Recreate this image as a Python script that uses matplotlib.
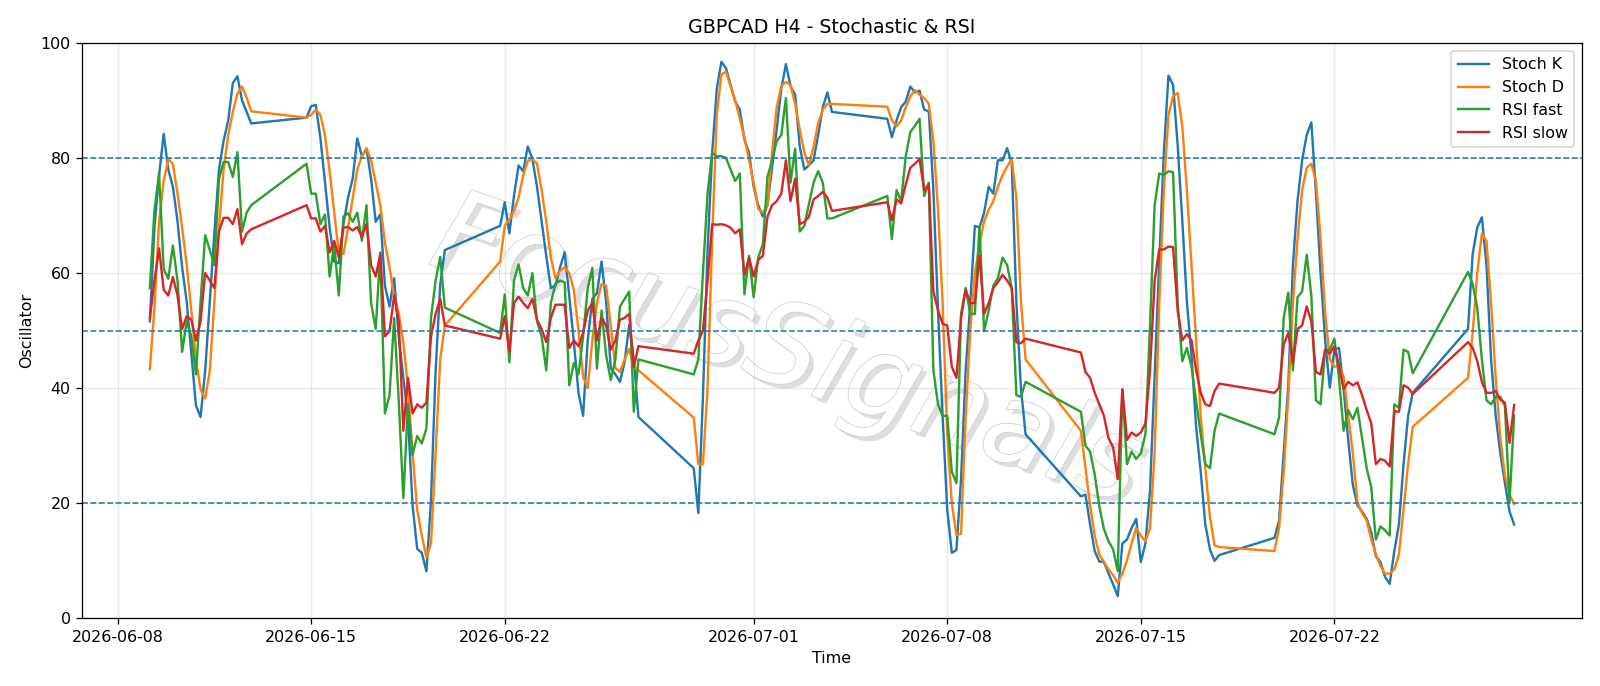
import matplotlib
matplotlib.use("Agg")
import matplotlib.pyplot as plt
import matplotlib.patheffects as pe
import pandas as pd

# H4 bars, one list per week (Sun 20:00 bar + Mon..Fri)
stoch_k = [
    51.6, 68, 77, 84.2, 78, 75, 69, 61, 55, 46, 37, 35, 43, 55, 67, 78, 83, 86.5, 93, 94.2, 90, 88, 86,
    87, 89, 89.2, 83.5, 75.7, 68, 62, 61.7, 68.5, 73.1, 76.4, 83.4, 80.3, 81.6, 76.4, 68.9, 70.2, 57.8, 54.2,
    59.1, 49, 41.8, 35, 19.6, 12.1, 11.4, 8.2, 20.5, 43, 58, 64,
    68.2, 72.3, 66.9, 73.4, 78.7, 77.7, 82, 79.8, 75, 69, 63, 57.4, 57.8, 61, 63.6, 56, 48, 39.2, 35.2,
    48.3, 55.5, 56.5, 62, 55, 43.5, 42.4, 41.1, 44.5, 51, 45, 35,
    26.1, 18.3, 38.5, 64, 80.9, 92, 96.7, 95.6, 92.7, 89.8, 88.4, 83.2, 80.9, 75, 71.8, 69.8, 71.8, 78.3, 85,
    92, 96.3, 92.5, 91, 82, 78, 78.7, 79.6, 84, 88.8, 91.4, 88,
    86.8, 83.6, 86.5, 88.8, 89.8, 92.4, 91.4, 91.7, 88.4, 88.1, 74.4, 53.5, 35.2, 18.9, 11.4, 11.9, 24.2, 43.1, 54.8,
    68.2, 67.9, 70.5, 75, 73.8, 79.6, 79.6, 81.7, 79, 55, 40, 32,
    21.2, 21.5, 16.3, 11.7, 9.9, 9.8, 7.8, 5.9, 3.9, 13, 13.7, 15.7, 17.3, 9.8, 13, 22.2, 42, 62, 81,
    94.3, 92.7, 82.2, 69.2, 55, 45.7, 33.3, 25.5, 16.3, 12, 10, 11,
    14, 17, 28.7, 40.5, 61.4, 72.5, 79.6, 84, 86.2, 74, 60, 48.3, 40.1, 46.7, 47, 40, 31, 23.2, 19.6,
    18.6, 17.3, 15, 10.8, 9.8, 7.2, 6, 11.7, 16.3, 26.8, 35.2, 39.2,
    50.3, 63.3, 67.9, 69.7, 61.4, 45, 35.2, 28.7, 23.5, 18.6, 16.3,
]
stoch_d = [
    43.3, 54, 69, 76, 79.8, 79, 73.8, 67.9, 61.4, 53.5, 45, 39.8, 38.2, 43, 55, 67.9, 78, 84, 88, 91.2, 92.4, 90.5, 88.1,
    87, 87.5, 88.4, 87.5, 83.9, 77.7, 70.5, 63.5, 63.3, 67.9, 73, 78, 80.3, 81.7, 79.6, 75.7, 71.8, 65.3, 61,
    56, 53, 48, 40, 28.7, 18.9, 14.4, 10.6, 13, 28.7, 45, 50.9,
    62, 68.2, 69.2, 70.8, 73.1, 77, 79.5, 79.8, 79, 74.4, 69, 62.7, 59.1, 60.4, 61, 60, 57, 50, 42,
    40, 48.3, 54.8, 58.1, 57.8, 50.9, 43.5, 42.8, 45, 46.8, 43.7, 43.1,
    34.9, 26.8, 26.8, 40, 65.9, 87.5, 94.5, 95, 92.4, 90, 86.8, 83.6, 79.6, 75.7, 71.1, 70.5, 71.8, 81, 88.8,
    92.5, 93.2, 92.7, 89.4, 85, 80.9, 78.7, 82, 86, 88.4, 89.4, 89.4,
    88.9, 86.5, 85.5, 86.5, 88.8, 90.7, 91.8, 91, 90.4, 89.4, 82.9, 71.1, 54.8, 32, 20, 14.5, 14.7, 35, 50,
    60, 65, 69, 71, 72.5, 75, 77, 78.5, 79.8, 73, 55, 45,
    32.6, 26.1, 19.6, 14.4, 11.1, 9.8, 8.5, 7.5, 6.2, 7.8, 10.1, 13, 15.7, 14.4, 13.4, 15.7, 28.7, 54.8, 74.4,
    87.5, 90.7, 91.3, 85.5, 74.4, 61.4, 48.3, 35.2, 26.1, 17.6, 12.7, 12.4,
    11.7, 15.7, 25.5, 38.5, 54.8, 65.9, 74.4, 78.3, 79, 76, 66, 53, 45, 43.7, 44, 42, 35.2, 28.7, 20.2,
    18.3, 17, 13.7, 11.1, 9.1, 7.8, 7.8, 8.5, 11.1, 18.9, 26.8, 33.3,
    41.8, 49.6, 60, 66.9, 65.6, 54.8, 41.8, 31.3, 24.8, 21.5, 19.9,
]
rsi_fast = [
    57.4, 71, 77.3, 60.7, 59, 64.8, 58.7, 46.3, 51.6, 49, 42.4, 55, 66.6, 64, 61.4, 76.4, 79.3, 79.3, 76.7, 81, 67.2, 70.5, 71.8,
    79, 73.8, 73.8, 68.5, 70.2, 59.4, 65, 56.1, 69.8, 70.4, 68.9, 70.5, 65.6, 71.8, 54.8, 50.3, 63.6, 35.6, 38.8,
    52.2, 37.9, 20.9, 37.2, 28.4, 31.7, 30.4, 33, 52.2, 58.7, 62.8, 54,
    49.6, 56.3, 44.5, 58.7, 61.5, 57.4, 56.1, 60, 51.6, 49, 43.1, 54.8, 58.1, 58.7, 58.4, 40.5, 44.4, 42.4, 49,
    57.4, 60.9, 43.4, 53.5, 45.7, 41.4, 45, 54.2, 55.5, 56.8, 35.9, 45,
    42.4, 45, 60, 73.8, 80.9, 80.3, 80.3, 80, 78, 76, 77.3, 56.3, 63, 55.8, 62.7, 65, 76.7, 79.6, 82.9,
    84, 90.4, 75.7, 81.6, 67.2, 68.2, 72, 75.7, 77.7, 75.7, 69.5, 69.5,
    73.4, 65.9, 74.4, 72.5, 80.3, 84.5, 85.6, 86.8, 73.4, 75.7, 43.1, 37.2, 35.2, 35.2, 25.5, 23.5, 52.9, 57.4, 52.9,
    52.9, 68.2, 49.9, 53.5, 57.8, 59.1, 62.7, 61.4, 57.4, 38.8, 38.5, 41.1,
    35.9, 30, 29, 25, 19.5, 15.5, 13.4, 12, 8.2, 39.8, 26.8, 29, 27.7, 28.7, 32, 50.9, 71.8, 77.3, 77,
    77.7, 77.5, 54.8, 44.7, 47, 43.7, 37.9, 32, 26.8, 26.1, 32.6, 35.6,
    32, 34.9, 52.2, 56.6, 43.1, 55.8, 56.8, 63.2, 56.1, 37.9, 37.2, 46.7, 46.7, 48.6, 41.8, 32.6, 36.2, 34.6, 36.6,
    31.3, 26.1, 22.8, 13.7, 16, 15.3, 14.4, 37.2, 36.6, 46.7, 46.3, 42.6,
    60.2, 58.1, 53.9, 45, 37.9, 37.2, 38.5, 38.5, 36.9, 20.2, 35.2,
]
rsi_slow = [
    52.2, 58.7, 64.3, 57.1, 56.1, 59.3, 56.1, 50.3, 52.5, 51.9, 48.3, 51.6, 60, 58.7, 57.4, 67.2, 69.6, 69.6, 68.5, 71.1, 65, 66.9, 67.6,
    71.8, 69.5, 69.5, 67.2, 68.2, 63.6, 65.6, 62.7, 67.9, 68, 67.4, 68, 66.3, 68.5, 61.4, 59.4, 63.3, 49, 49.9,
    56.1, 51.6, 32.6, 41.8, 35.6, 37.2, 36.6, 37.5, 49, 52.9, 55.5, 50.9,
    48.6, 52.5, 46.3, 54.8, 55.9, 54.8, 53.9, 55.5, 51.9, 50.3, 48, 52.2, 54.5, 54.5, 54.5, 47, 48.3, 47.3, 49.6,
    53.5, 54.8, 48.3, 52.2, 50.9, 46.7, 48.3, 51.9, 52.2, 52.9, 43.7, 47.3,
    46, 48.3, 50, 58.7, 68.5, 68.4, 68.5, 68.3, 67.9, 66.9, 67.6, 59.7, 62.7, 59.4, 62.3, 63, 69.8, 71.8, 72.5,
    73.8, 79.6, 72.5, 76.4, 68.5, 68.9, 69.8, 72.8, 73.4, 74.1, 73.1, 70.8,
    72.3, 69.2, 72.8, 72.1, 75.4, 78.3, 79, 79.8, 74.4, 75.4, 56.8, 53.5, 51.2, 50.9, 43.7, 41.8, 52.2, 57.1, 54.8,
    54.8, 63, 52.9, 54.8, 57.4, 58.4, 59.7, 58.7, 57.4, 48, 47.8, 48.6,
    46.2, 42.8, 41.8, 39.2, 37.2, 35.2, 31.3, 29.7, 24.2, 39.8, 31, 32.3, 31.7, 32.3, 33.9, 43.1, 58.7, 64.1, 64.1,
    64.6, 64.5, 53.5, 48.3, 49.4, 48.3, 43.1, 39.2, 37.2, 36.9, 39.5, 40.8,
    39.2, 40.1, 47.6, 49.6, 44.4, 50.3, 50.9, 54.2, 51.6, 42.8, 42.4, 46.7, 46, 47.3, 44, 39.8, 41.1, 40.5, 41,
    38.8, 36.2, 33.9, 26.8, 27.7, 27.4, 26.4, 36, 35.9, 40.5, 40.1, 39,
    48, 47, 44.7, 41.1, 39.2, 39.2, 39.5, 38, 37.5, 30.5, 37.1,
]
levels = [20, 50, 80]

# trading bars only: weekdays plus the Sunday 20:00 open
idx = pd.date_range("2026-06-09 04:00", "2026-07-28 12:00", freq="4h")
idx = idx[(idx.dayofweek < 5) | ((idx.dayofweek == 6) & (idx.hour == 20))]

fig, ax = plt.subplots(figsize=(14, 6))
fig.subplots_adjust(left=0.051, right=0.9885, top=0.9375, bottom=0.0985)

# faint watermark behind the lines
ax.text(0.47, 0.46, "FocusSignals", transform=ax.transAxes, fontsize=72,
        rotation=-19, ha="center", va="center", color="white", style="italic",
        zorder=0,
        path_effects=[pe.withSimplePatchShadow(offset=(3, -3), shadow_rgbFace="#c8c8c8", alpha=0.6),
                      pe.Stroke(linewidth=1.0, foreground="#cfcfcf"), pe.Normal()])

ax.plot(idx, stoch_k, label="Stoch K", lw=1.5)
ax.plot(idx, stoch_d, label="Stoch D", lw=1.5)
ax.plot(idx, rsi_fast, label="RSI fast", lw=1.5)
ax.plot(idx, rsi_slow, label="RSI slow", lw=1.5)
for lv in levels:
    ax.axhline(lv, color="C0", linestyle="--", linewidth=1)

ax.set_ylim(0, 100)
ax.set_title("GBPCAD H4 - Stochastic & RSI")
ax.set_xlabel("Time")
ax.set_ylabel("Oscillator")
ax.grid(True, alpha=0.3)
ax.legend(loc="upper right")

fig.savefig("out.png", dpi=114.34)
